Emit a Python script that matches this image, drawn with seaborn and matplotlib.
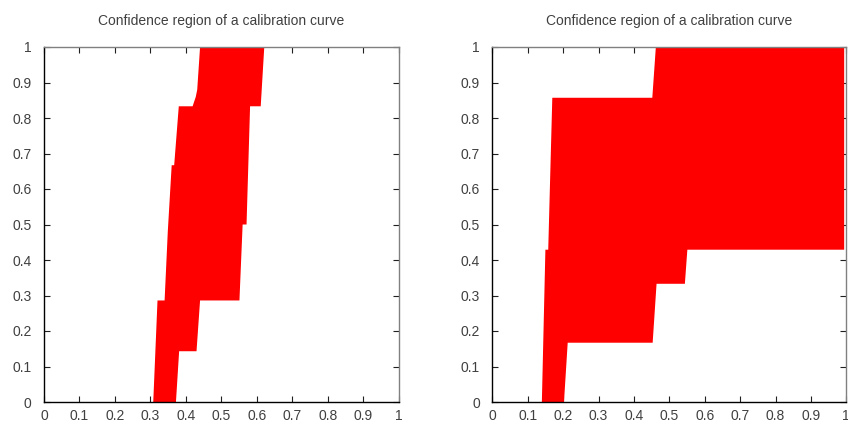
import numpy as np
import matplotlib
matplotlib.use("Agg")
import matplotlib.pyplot as plt
import seaborn as sns

sns.set_style("ticks")
plt.rcParams['font.family'] = ['Liberation Sans', 'DejaVu Sans']

title = "Confidence region of a calibration curve"
ticks = [0, 0.1, 0.2, 0.3, 0.4, 0.5, 0.6, 0.7, 0.8, 0.9, 1]
tick_labels = ["0", "0.1", "0.2", "0.3", "0.4", "0.5", "0.6", "0.7", "0.8", "0.9", "1"]

# Left panel: lower (left) boundary, bottom to top
left_lo_x = [0.308, 0.320, 0.340, 0.349, 0.360, 0.367, 0.380, 0.419, 0.428, 0.432, 0.440]
left_lo_y = [0.0, 0.286, 0.286, 0.48, 0.667, 0.667, 0.833, 0.833, 0.86, 0.88, 1.0]
# Left panel: upper (right) boundary, top to bottom
left_hi_x = [0.621, 0.611, 0.581, 0.571, 0.560, 0.551, 0.440, 0.430, 0.381, 0.372]
left_hi_y = [1.0, 0.833, 0.833, 0.5, 0.5, 0.286, 0.286, 0.143, 0.143, 0.0]

# Right panel
right_lo_x = [0.140, 0.150, 0.158, 0.1695, 0.452, 0.462]
right_lo_y = [0.0, 0.429, 0.429, 0.857, 0.857, 1.0]
right_hi_x = [0.994, 0.994, 0.551, 0.544, 0.464, 0.453, 0.213, 0.2025]
right_hi_y = [1.0, 0.429, 0.429, 0.333, 0.333, 0.167, 0.167, 0.0]

fig = plt.figure(figsize=(8.48, 4.25), dpi=100)
ax1 = fig.add_axes([44 / 848, 23 / 425, 354.7 / 848, 355 / 425])
ax2 = fig.add_axes([492.3 / 848, 23 / 425, 354 / 848, 355 / 425])

panels = [
    (ax1, left_lo_x, left_lo_y, left_hi_x, left_hi_y),
    (ax2, right_lo_x, right_lo_y, right_hi_x, right_hi_y),
]

text_col = "#404040"
for ax, lx, ly, hx, hy in panels:
    ax.fill(lx + hx, ly + hy, color="#ff0000", linewidth=0, antialiased=True)
    ax.set_xlim(0, 1)
    ax.set_ylim(0, 1)
    ax.set_xticks(ticks)
    ax.set_yticks(ticks)
    ax.set_xticklabels(tick_labels)
    ax.set_yticklabels(tick_labels)
    ax.tick_params(direction="in", length=4, width=0.8, top=True, right=True,
                   labelsize=10, labelcolor=text_col, color="#202020")
    ax.tick_params(axis="x", pad=5)
    ax.tick_params(axis="y", pad=9)
    for s in ["left", "bottom"]:
        ax.spines[s].set_color("black")
        ax.spines[s].set_linewidth(1.0)
    for s in ["top", "right"]:
        ax.spines[s].set_visible(True)
        ax.spines[s].set_color("#808080")
        ax.spines[s].set_linewidth(1.0)
    ax.set_title(title, fontsize=10, color=text_col, pad=16)

fig.savefig("out.png", dpi=100)
